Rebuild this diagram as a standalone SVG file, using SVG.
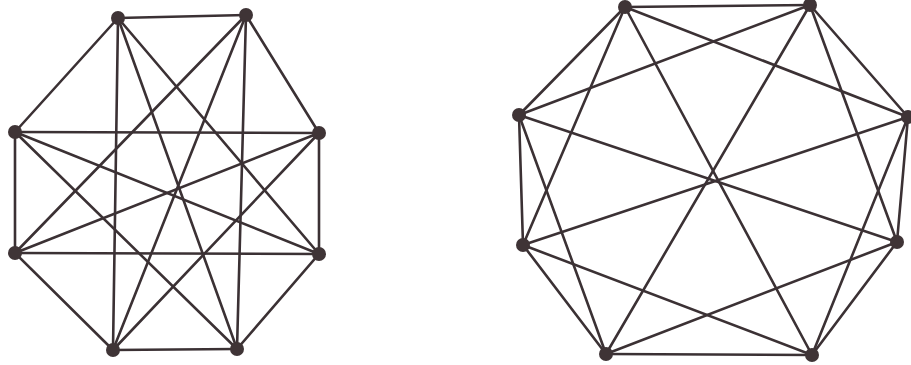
<svg xmlns="http://www.w3.org/2000/svg" width="911" height="365" viewBox="0 0 911 365">
<style>
.e{stroke:#3b3134;stroke-width:2.6;stroke-linecap:round;fill:none}
.n{fill:#3f3436}
</style>
<rect width="911" height="365" fill="#ffffff"/>
<g id="connectors">
<g id="left-edges" class="e">
<line x1="118" y1="18" x2="246" y2="15"/>
<line x1="118" y1="18" x2="15" y2="132"/>
<line x1="118" y1="18" x2="113" y2="350"/>
<line x1="118" y1="18" x2="237" y2="349"/>
<line x1="118" y1="18" x2="319" y2="254"/>
<line x1="246" y1="15" x2="319" y2="133"/>
<line x1="246" y1="15" x2="237" y2="349"/>
<line x1="246" y1="15" x2="15" y2="253"/>
<line x1="246" y1="15" x2="113" y2="350"/>
<line x1="15" y1="132" x2="319" y2="133"/>
<line x1="15" y1="132" x2="15" y2="253"/>
<line x1="15" y1="132" x2="237" y2="349"/>
<line x1="15" y1="132" x2="319" y2="254"/>
<line x1="319" y1="133" x2="319" y2="254"/>
<line x1="319" y1="133" x2="15" y2="253"/>
<line x1="319" y1="133" x2="113" y2="350"/>
<line x1="15" y1="253" x2="319" y2="254"/>
<line x1="15" y1="253" x2="113" y2="350"/>
<line x1="319" y1="254" x2="237" y2="349"/>
<line x1="113" y1="350" x2="237" y2="349"/>
</g>
<g id="right-edges" class="e">
<line x1="625" y1="7" x2="810" y2="5"/>
<line x1="625" y1="7" x2="519" y2="115"/>
<line x1="625" y1="7" x2="908" y2="117"/>
<line x1="625" y1="7" x2="523" y2="245"/>
<line x1="625" y1="7" x2="812" y2="355"/>
<line x1="810" y1="5" x2="519" y2="115"/>
<line x1="810" y1="5" x2="908" y2="117"/>
<line x1="810" y1="5" x2="897" y2="242"/>
<line x1="810" y1="5" x2="606" y2="354"/>
<line x1="519" y1="115" x2="523" y2="245"/>
<line x1="519" y1="115" x2="897" y2="242"/>
<line x1="519" y1="115" x2="606" y2="354"/>
<line x1="908" y1="117" x2="897" y2="242"/>
<line x1="908" y1="117" x2="523" y2="245"/>
<line x1="908" y1="117" x2="812" y2="355"/>
<line x1="523" y1="245" x2="606" y2="354"/>
<line x1="523" y1="245" x2="812" y2="355"/>
<line x1="897" y1="242" x2="606" y2="354"/>
<line x1="897" y1="242" x2="812" y2="355"/>
<line x1="606" y1="354" x2="812" y2="355"/>
</g>
</g>
<g id="L1"><circle class="n" cx="118" cy="18" r="7"/></g>
<g id="L2"><circle class="n" cx="246" cy="15" r="7"/></g>
<g id="L3"><circle class="n" cx="15" cy="132" r="7"/></g>
<g id="L4"><circle class="n" cx="319" cy="133" r="7"/></g>
<g id="L5"><circle class="n" cx="15" cy="253" r="7"/></g>
<g id="L6"><circle class="n" cx="319" cy="254" r="7"/></g>
<g id="L7"><circle class="n" cx="113" cy="350" r="7"/></g>
<g id="L8"><circle class="n" cx="237" cy="349" r="7"/></g>
<g id="R1"><circle class="n" cx="625" cy="7" r="7"/></g>
<g id="R2"><circle class="n" cx="810" cy="5" r="7"/></g>
<g id="R3"><circle class="n" cx="519" cy="115" r="7"/></g>
<g id="R4"><circle class="n" cx="908" cy="117" r="7"/></g>
<g id="R5"><circle class="n" cx="523" cy="245" r="7"/></g>
<g id="R6"><circle class="n" cx="897" cy="242" r="7"/></g>
<g id="R7"><circle class="n" cx="606" cy="354" r="7"/></g>
<g id="R8"><circle class="n" cx="812" cy="355" r="7"/></g>
</svg>
